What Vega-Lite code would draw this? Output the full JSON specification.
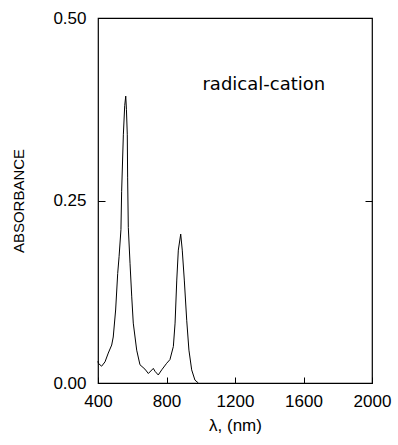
{
  "$schema": "https://vega.github.io/schema/vega-lite/v6.json",
  "autosize": {"type": "none"},
  "width": 274,
  "height": 365,
  "padding": {"left": 98, "top": 18, "right": 26, "bottom": 62},
  "background": "white",
  "config": {
    "view": {"stroke": "black", "strokeWidth": 1.2},
    "axis": {"grid": false, "domain": false, "labelFlush": false, "labelOverlap": false, "tickColor": "black", "labelColor": "black", "titleColor": "black", "labelFont": "Liberation Sans", "titleFont": "Liberation Sans", "labelFontSize": 17, "titleFontSize": 15, "titleFontWeight": "normal"}
  },
  "data": {"values": [
    {"wl": 400, "abs": 0.030},
    {"wl": 402, "abs": 0.027},
    {"wl": 421, "abs": 0.023},
    {"wl": 441, "abs": 0.029},
    {"wl": 460, "abs": 0.041},
    {"wl": 480, "abs": 0.052},
    {"wl": 489, "abs": 0.063},
    {"wl": 503, "abs": 0.100},
    {"wl": 515, "abs": 0.150},
    {"wl": 523, "abs": 0.173},
    {"wl": 534, "abs": 0.210},
    {"wl": 538, "abs": 0.262},
    {"wl": 548, "abs": 0.340},
    {"wl": 556, "abs": 0.380},
    {"wl": 562, "abs": 0.393},
    {"wl": 566, "abs": 0.375},
    {"wl": 571, "abs": 0.340},
    {"wl": 573, "abs": 0.281},
    {"wl": 577, "abs": 0.213},
    {"wl": 587, "abs": 0.164},
    {"wl": 597, "abs": 0.118},
    {"wl": 606, "abs": 0.082},
    {"wl": 626, "abs": 0.045},
    {"wl": 645, "abs": 0.025},
    {"wl": 674, "abs": 0.019},
    {"wl": 694, "abs": 0.013},
    {"wl": 723, "abs": 0.020},
    {"wl": 733, "abs": 0.016},
    {"wl": 752, "abs": 0.011},
    {"wl": 772, "abs": 0.018},
    {"wl": 801, "abs": 0.027},
    {"wl": 820, "abs": 0.032},
    {"wl": 840, "abs": 0.050},
    {"wl": 850, "abs": 0.082},
    {"wl": 860, "abs": 0.141},
    {"wl": 869, "abs": 0.182},
    {"wl": 883, "abs": 0.204},
    {"wl": 892, "abs": 0.182},
    {"wl": 904, "abs": 0.141},
    {"wl": 918, "abs": 0.086},
    {"wl": 931, "abs": 0.045},
    {"wl": 947, "abs": 0.018},
    {"wl": 966, "abs": 0.004},
    {"wl": 986, "abs": 0.0}
  ]},
  "layer": [
    {
      "mark": {"type": "line", "color": "black", "strokeWidth": 1},
      "encoding": {
        "x": {"field": "wl", "type": "quantitative", "scale": {"domain": [400, 2000], "nice": false}, "axis": {"values": [400, 800, 1200, 1600, 2000], "format": "d", "title": "λ, (nm)", "titleFontSize": 17, "tickSize": -6, "labelPadding": 16, "titlePadding": 8}},
        "y": {"field": "abs", "type": "quantitative", "scale": {"domain": [0, 0.5], "nice": false}, "axis": {"values": [0, 0.25, 0.5], "format": ".2f", "title": "ABSORBANCE", "tickSize": -7, "labelPadding": 19, "titlePadding": 26}}
      }
    },
    {
      "data": {"values": [{"wl": 1010, "abs": 0.408, "label": "radical-cation"}]},
      "mark": {"type": "text", "align": "left", "baseline": "middle", "font": "DejaVu Sans", "fontSize": 18, "color": "black"},
      "encoding": {
        "x": {"field": "wl", "type": "quantitative", "axis": {"values": [400, 800, 1200, 1600, 2000], "format": "d", "title": "λ, (nm)", "titleFontSize": 17, "tickSize": -6, "labelPadding": 16, "titlePadding": 8}},
        "y": {"field": "abs", "type": "quantitative", "axis": {"orient": "right", "values": [0, 0.25, 0.5], "labels": false, "title": null, "tickSize": -7}},
        "text": {"field": "label"}
      }
    }
  ],
  "resolve": {"axis": {"y": "independent"}}
}
